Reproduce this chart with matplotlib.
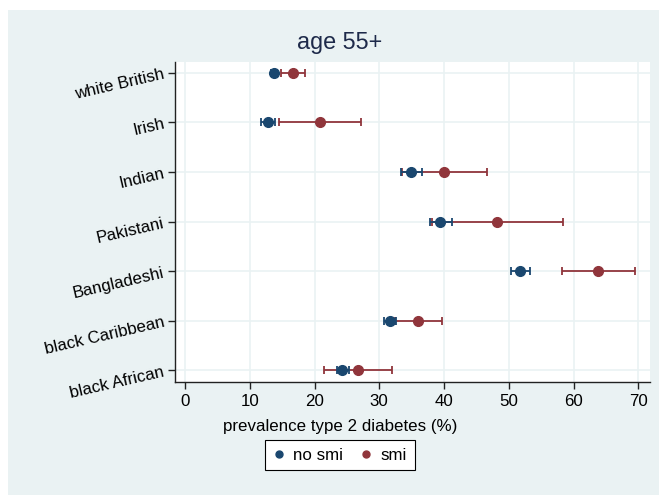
import numpy as np
import matplotlib.pyplot as plt
from matplotlib.patches import Rectangle

plt.rcParams['font.family'] = ['Liberation Sans', 'DejaVu Sans']

# categories, top to bottom
groups = ['white British', 'Irish', 'Indian', 'Pakistani', 'Bangladeshi',
          'black Caribbean', 'black African']

# no smi: estimate, lower, upper
nosmi = [13.7, 12.8, 34.9, 39.4, 51.8, 31.6, 24.2]
nosmi_lo = [13.3, 11.7, 33.3, 37.8, 50.3, 30.8, 23.4]
nosmi_hi = [14.2, 13.9, 36.6, 41.2, 53.2, 32.6, 25.3]

# smi: estimate, lower, upper
smi = [16.7, 20.8, 40.0, 48.2, 63.8, 36.0, 26.7]
smi_lo = [14.9, 14.5, 33.5, 38.1, 58.2, 32.5, 21.4]
smi_hi = [18.5, 27.2, 46.6, 58.4, 69.5, 39.7, 32.0]

navy = '#1a476f'
maroon = '#90353b'
bg = '#eaf2f3'

fig = plt.figure(figsize=(6.59, 4.95), dpi=100)
fig.patch.set_facecolor('white')
fig.patches.append(Rectangle((8 / 659, 0), 1, 1 - 10 / 495, transform=fig.transFigure,
                             facecolor=bg, edgecolor='none', zorder=-10))

ax = fig.add_axes([175 / 659, 1 - 382 / 495, 475 / 659, 320 / 495])
ax.set_facecolor('white')

y = np.arange(len(groups))[::-1]

def draw(est, lo, hi, col):
    est = np.array(est)
    err = [est - np.array(lo), np.array(hi) - est]
    ax.errorbar(est, y, xerr=err, fmt='o', color=col, ecolor=col, elinewidth=1.3,
                capsize=2.6, capthick=1.3, markersize=7, zorder=3)

draw(smi, smi_lo, smi_hi, maroon)
draw(nosmi, nosmi_lo, nosmi_hi, navy)

ax.set_xlim(-1.54, 71.8)
ax.set_ylim(-0.24, 6.22)
ax.set_xticks(range(0, 71, 10))
ax.set_yticks(y)
ax.set_yticklabels(groups, rotation=13, ha='right', rotation_mode='anchor')
ax.grid(True, color=bg, linewidth=1.2)
ax.set_axisbelow(True)
for s in ['top', 'right']:
    ax.spines[s].set_visible(False)
for s in ['left', 'bottom']:
    ax.spines[s].set_color('#222222')
    ax.spines[s].set_linewidth(1.0)
ax.tick_params(axis='both', labelsize=12.2, length=5, width=1, color='#222222')
ax.tick_params(axis='x', pad=4)
ax.tick_params(axis='y', pad=3)

fig.text(340 / 659, 1 - 42 / 495, 'age 55+', ha='center', va='center',
         fontsize=16.8, color='#1e2a4a')
fig.text(340 / 659, 1 - 427 / 495, 'prevalence type 2 diabetes (%)', ha='center',
         va='center', fontsize=12.2)

h1, = ax.plot([], [], 'o', color=navy, markersize=5)
h2, = ax.plot([], [], 'o', color=maroon, markersize=5)
leg = fig.legend([h1, h2], ['no smi', 'smi'], loc='center', ncol=2,
                 bbox_to_anchor=(340 / 659, 1 - 455 / 495), fontsize=12.2,
                 frameon=True, fancybox=False, edgecolor='black', framealpha=1,
                 handletextpad=0.5, columnspacing=1.0, borderpad=0.45,
                 borderaxespad=0.0, handlelength=0.7)
leg.get_frame().set_linewidth(0.8)

fig.savefig('out.png', dpi=100)
